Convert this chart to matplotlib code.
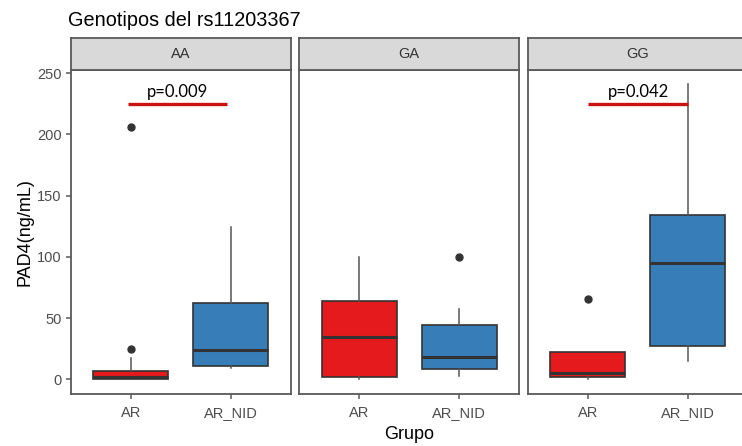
"""Boxplots of PAD4 by group, faceted by rs11203367 genotype."""

import matplotlib
matplotlib.use("Agg")
import matplotlib.pyplot as plt

# data
genotypes = ["AA", "GA", "GG"]
groups = ["AR", "AR_NID"]
whislo = [[0.3, 9.5], [0.3, 2.4], [0.5, 14.7]]
q1 = [[0.3, 10.8], [1.6, 8.7], [1.9, 27.1]]
med = [[1.9, 23.9], [34.2, 17.9], [5.4, 95.0]]
q3 = [[6.8, 62.4], [63.8, 44.0], [22.2, 134.0]]
whishi = [[17.3, 124.0], [100.0, 57.6], [22.2, 240.8]]
fliers = [[[24.4, 206.0], []], [[], [100.0]], [[65.7], []]]

# significance annotations (panel, label, bar from/to in group units, height)
sig_panels = ["AA", "GG"]
sig_labels = ["p=0.009", "p=0.042"]
sig_x0 = [0.97, 1.0]
sig_x1 = [1.96, 2.0]
sig_text_x = [1.47, 1.51]
sig_y = [225, 225]

yticks = [0, 50, 100, 150, 200, 250]
colors = ["#E41A1C", "#377EB8"]
EDGE = "#333333"
FRAME = "#595959"
TICK = "#4D4D4D"

plt.rcParams["font.family"] = ["Liberation Sans", "DejaVu Sans"]

W, H = 742, 446
fig = plt.figure(figsize=(W / 100, H / 100), dpi=100)

panel_left = [70.7, 299.3, 527.9]
panel_w = 220.0
ax_bottom = 1 - 394 / H
ax_top = 1 - 69.5 / H
strip_top = 1 - 38.3 / H

for i, g in enumerate(genotypes):
    left = panel_left[i] / W
    ax = fig.add_axes([left, ax_bottom, panel_w / W, ax_top - ax_bottom])
    stats = []
    for j, grp in enumerate(groups):
        stats.append(dict(whislo=whislo[i][j], q1=q1[i][j], med=med[i][j],
                          q3=q3[i][j], whishi=whishi[i][j], fliers=fliers[i][j]))
    bp = ax.bxp(stats, positions=[1, 2], widths=0.75, patch_artist=True,
                showcaps=False,
                boxprops=dict(edgecolor=EDGE, linewidth=1.2),
                medianprops=dict(color=EDGE, linewidth=2.2),
                whiskerprops=dict(color="#555555", linewidth=1.1),
                flierprops=dict(marker="o", markerfacecolor=EDGE,
                                markeredgecolor=EDGE, markersize=5))
    for patch, c in zip(bp["boxes"], colors):
        patch.set_facecolor(c)

    ax.set_xlim(0.4, 2.6)
    ax.set_ylim(-12, 253)
    ax.set_xticks([1, 2])
    ax.set_xticklabels(groups)
    ax.set_yticks(yticks)
    ax.tick_params(axis="both", colors=FRAME, labelcolor=TICK, labelsize=10.5,
                   length=3.6, width=1.1)
    ax.tick_params(axis="x", pad=5)
    ax.tick_params(axis="y", pad=3)
    if i > 0:
        ax.tick_params(axis="y", left=False, labelleft=False)
    for sp in ax.spines.values():
        sp.set_color(FRAME)
        sp.set_linewidth(1.3)

    if g in sig_panels:
        k = sig_panels.index(g)
        ax.plot([sig_x0[k], sig_x1[k]], [sig_y[k], sig_y[k]], color="#CC1111",
                linewidth=2.4, solid_capstyle="butt")
        ax.text(sig_text_x[k], sig_y[k] + 3, sig_labels[k], ha="center",
                va="bottom", fontsize=12, family=["Lato", "DejaVu Sans"],
                color="black")

    # facet strip
    sax = fig.add_axes([left, ax_top, panel_w / W, strip_top - ax_top])
    sax.set_facecolor("#D9D9D9")
    sax.set_xticks([])
    sax.set_yticks([])
    for sp in sax.spines.values():
        sp.set_color(FRAME)
        sp.set_linewidth(1.3)
    sax.text(0.5, 0.5, g, ha="center", va="center", fontsize=10.5,
             color="#333333", transform=sax.transAxes)

fig.text(68 / W, 1 - 26 / H, "Genotipos del rs11203367", fontsize=14.3,
         va="baseline", ha="left", color="black")
fig.text(409 / W, 1 - 439 / H, "Grupo", fontsize=13, ha="center",
         va="baseline", color="black")
fig.text(25 / W, 1 - 232 / H, "PAD4(ng/mL)", fontsize=13, ha="center",
         va="center", rotation=90, color="black")

fig.savefig("out.png", dpi=100)
